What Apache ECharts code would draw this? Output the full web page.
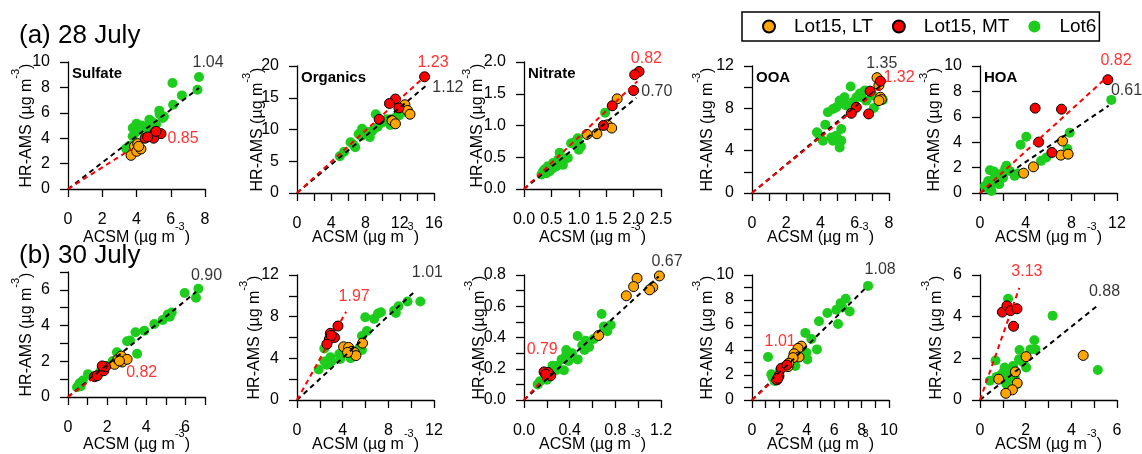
<!DOCTYPE html>
<html>
<head>
<meta charset="utf-8">
<title>HR-AMS vs ACSM</title>
<script src="https://cdn.jsdelivr.net/npm/echarts@6/dist/echarts.min.js"></script>
<style>
  body { margin: 0; background: #fff; }
  #main { width: 1142px; height: 454px; }
</style>
</head>
<body>
<div id="main"></div>
<script>
// panels: 28 July (Sulfate, Organics, Nitrate, OOA, HOA), then 30 July the same
var species = ['Sulfate', 'Organics', 'Nitrate', 'OOA', 'HOA'];
var dayTitles = ['(a) 28 July', '(b) 30 July'];
var seriesNames = ['Lot15, LT', 'Lot15, MT', 'Lot6'];

// points are [ACSM, HR-AMS] in ug m-3
var so4Jul28LT = [[3.68,2.65],[3.88,3.36],[4.01,2.97],[4.07,3.57],[4.26,3.15],[4.13,3.36]];
var so4Jul28MT = [[4.5,4.0],[5.08,4.46],[5.43,4.36],[5.0,4.0],[4.65,4.1],[5.14,4.54]];
var so4Jul28L6 = [[7.65,8.82],[6.1,8.35],[7.56,7.82],[6.65,7.37],[6.14,6.64],[5.33,6.17],[5.52,5.59],[4.75,5.46],[5.14,5.07],[4.0,5.14],[3.78,4.8],[4.17,4.67],[4.55,4.8],[3.78,4.15],[3.39,3.18],[4.9,5.3],[5.35,5.9],[4.3,5.0],[3.9,4.4],[4.8,4.6],[3.6,3.4],[5.6,5.7]];

var orgJul28LT = [[12.6,13.9],[12.9,13.0],[13.2,12.4],[11.1,11.4],[11.5,10.9]];
var orgJul28MT = [[14.9,18.3],[11.5,14.8],[10.8,14.1],[11.9,13.4],[9.6,11.6]];
var orgJul28L6 = [[12.5,12.8],[11.9,12.2],[10.9,10.7],[9.2,12.4],[10.0,11.2],[9.4,10.4],[8.5,8.8],[7.6,10.1],[7.2,9.3],[8.2,9.6],[6.8,7.2],[6.25,8.0],[5.5,6.5],[5.0,5.8],[10.5,11.6],[8.8,9.8],[11.4,11.8],[7.5,9.0],[6.6,7.6],[9.8,11.0]];

var no3Jul28LT = [[1.70,1.42],[1.52,1.01],[1.60,0.96],[1.33,0.87],[1.15,0.86]];
var no3Jul28MT = [[2.10,1.85],[2.02,1.80],[2.0,1.55],[1.61,1.31],[1.45,1.0]];
var no3Jul28L6 = [[1.48,1.20],[0.98,0.80],[0.86,0.72],[1.04,0.67],[0.95,0.75],[0.80,0.49],[0.65,0.57],[0.62,0.46],[0.71,0.38],[0.53,0.41],[0.44,0.36],[0.35,0.28],[0.32,0.23],[0.47,0.28],[0.53,0.33],[0.41,0.25],[0.59,0.36],[0.38,0.31],[0.66,0.43],[1.0,0.62]];

var ooaJul28LT = [[7.3,10.9],[7.41,10.16],[7.5,9.05],[7.55,8.83],[7.41,8.73]];
var ooaJul28MT = [[7.5,10.57],[6.9,9.62],[6.09,8.1],[5.8,7.53],[6.81,7.47]];
var ooaJul28L6 = [[5.76,10.06],[5.4,9.05],[5.12,8.73],[4.92,8.1],[4.43,7.63],[4.73,7.94],[5.5,8.26],[5.9,8.6],[6.1,9.05],[6.58,9.68],[6.38,9.05],[7.06,9.21],[7.64,8.8],[7.12,8.04],[6.67,8.73],[4.28,6.46],[3.79,5.73],[3.95,5.41],[4.63,5.25],[4.14,4.94],[4.73,4.94],[5.21,4.94],[5.12,4.3],[5.21,6.04],[4.92,5.41],[6.3,9.4],[5.3,8.5]];

var hoaJul28LT = [[7.23,4.09],[7.08,2.98],[7.72,3.06],[4.68,2.06],[3.82,1.56]];
var hoaJul28MT = [[11.2,8.92],[4.83,6.68],[7.14,6.6],[5.14,4.01],[6.3,3.19]];
var hoaJul28L6 = [[11.5,7.33],[7.86,4.75],[7.66,3.46],[5.81,2.8],[5.35,2.53],[4.05,4.43],[3.55,3.8],[0.87,1.79],[2.31,2.14],[1.73,1.48],[1.3,1.21],[0.72,0.95],[0.43,0.55],[1.01,0.16],[1.45,0.82],[2.02,1.21],[3.03,1.35],[2.6,1.74],[3.32,1.53],[0.58,0.42],[1.68,0.69],[1.21,1.69],[2.2,1.9],[0.9,0.6]];

var so4Jul30LT = [[2.38,1.83],[2.55,2.11],[2.72,2.29],[2.77,1.96],[3.02,2.11],[2.63,2.02]];
var so4Jul30MT = [[1.36,1.14],[1.49,1.19],[1.83,1.47],[1.92,1.69],[1.75,1.74]];
var so4Jul30L6 = [[6.66,6.06],[5.96,5.82],[6.54,5.56],[5.3,4.73],[5.1,4.62],[4.84,4.31],[4.41,4.09],[3.9,3.71],[3.45,3.63],[3.02,3.12],[3.17,3.16],[3.53,2.42],[2.5,2.51],[1.02,1.28],[0.76,0.92],[0.59,0.77],[0.46,0.55],[1.7,1.52],[1.58,1.32],[1.95,1.74],[2.29,2.02],[5.2,4.5],[0.65,0.6]];

var orgJul30LT = [[5.74,5.46],[4.08,5.11],[4.52,5.05],[4.81,4.67],[5.02,4.57],[5.16,4.26],[4.43,4.57]];
var orgJul30MT = [[3.59,7.1],[3.29,6.0],[2.92,6.4],[2.83,5.84],[2.62,5.36],[3.0,6.2]];
var orgJul30L6 = [[10.8,9.46],[9.68,9.46],[8.89,9.0],[8.51,8.58],[8.66,8.36],[7.35,8.42],[6.76,7.79],[5.98,7.95],[6.12,6.62],[5.69,6.15],[5.45,4.98],[5.69,4.8],[3.7,4.42],[3.79,3.94],[2.92,4.1],[3.0,3.69],[2.62,3.38],[2.42,3.69],[1.9,2.93],[2.39,4.95],[7.1,8.3],[5.0,4.2],[4.7,4.0]];

var no3Jul30LT = [[1.186,0.794],[0.99,0.779],[0.96,0.726],[1.128,0.722],[1.10,0.705],[0.896,0.667],[0.654,0.413]];
var no3Jul30MT = [[0.176,0.18],[0.211,0.176],[0.234,0.155],[0.19,0.165]];
var no3Jul30L6 = [[0.68,0.55],[0.76,0.48],[0.73,0.44],[0.70,0.47],[0.61,0.39],[0.54,0.38],[0.53,0.32],[0.57,0.34],[0.47,0.41],[0.37,0.32],[0.37,0.29],[0.47,0.26],[0.33,0.26],[0.29,0.22],[0.35,0.19],[0.25,0.22],[0.14,0.12],[0.12,0.10],[0.20,0.13],[0.28,0.19],[0.39,0.25],[0.51,0.35],[0.42,0.3]];

var ooaJul30LT = [[3.6,4.31],[3.36,4.13],[3.07,3.7],[3.43,3.44],[3.0,3.39],[2.63,2.67],[2.68,2.94]];
var ooaJul30MT = [[1.82,1.61],[1.97,1.93],[2.14,2.54],[2.55,2.80],[1.9,1.74]];
var ooaJul30L6 = [[8.47,9.13],[6.84,8.1],[6.47,7.75],[6.16,7.22],[7.13,7.09],[6.28,6.08],[5.5,6.96],[4.89,6.3],[3.89,5.37],[4.33,4.89],[4.74,4.05],[3.97,3.78],[4.04,3.25],[3.16,2.72],[1.17,3.44],[1.41,2.06],[1.65,1.53],[2.02,2.33],[1.5,1.8],[6.6,7.4]];

var hoaJul30LT = [[4.52,2.14],[2.02,2.08],[1.55,1.35],[0.82,1.0],[1.63,0.81],[1.42,0.49],[1.13,0.32]];
var hoaJul30MT = [[0.98,4.22],[1.18,4.52],[1.34,4.29],[1.62,4.38],[1.47,3.54]];
var hoaJul30L6 = [[1.23,4.86],[3.18,4.05],[2.38,2.87],[2.43,2.43],[2.21,2.43],[1.73,2.4],[0.68,1.9],[1.71,1.95],[1.45,1.63],[2.02,1.56],[5.16,1.44],[1.3,1.4],[1.01,1.32],[0.72,1.11],[0.43,0.92],[1.23,1.0],[1.52,1.11],[1.62,0.76],[1.16,0.76],[0.87,1.16],[1.08,1.56],[1.9,1.8]];

var lotLT = [so4Jul28LT, orgJul28LT, no3Jul28LT, ooaJul28LT, hoaJul28LT, so4Jul30LT, orgJul30LT, no3Jul30LT, ooaJul30LT, hoaJul30LT];
var lotMT = [so4Jul28MT, orgJul28MT, no3Jul28MT, ooaJul28MT, hoaJul28MT, so4Jul30MT, orgJul30MT, no3Jul30MT, ooaJul30MT, hoaJul30MT];
var lot6 = [so4Jul28L6, orgJul28L6, no3Jul28L6, ooaJul28L6, hoaJul28L6, so4Jul30L6, orgJul30L6, no3Jul30L6, ooaJul30L6, hoaJul30L6];

// fitted slopes (black = all / Lot6, red = Lot15 MT) and where the fit lines stop
var slopeBlack = [1.04, 1.12, 0.70, 1.35, 0.61, 0.90, 1.01, 0.67, 1.08, 0.88];
var slopeRed = [0.85, 1.23, 0.82, 1.32, 0.82, 0.82, 1.97, 0.79, 1.01, 3.13];
var fitEndBlack = [7.65, 15.0, 2.05, 7.5, 11.27, 6.54, 10.3, 1.18, 8.4, 5.1];
var fitEndRed = [3.7, 14.9, 2.07, 7.5, 11.2, 1.9, 4.3, 0.26, 2.75, 1.72];
var slopeTextBlackAt = [[7.27,9.97],[15.8,16.6],[2.14,1.54],[6.67,12.2],[11.47,8.07],[6.28,6.79],[10.06,12.2],[1.116,0.885],[8.22,10.4],[4.77,5.2]];
var slopeTextRedAt = [[5.81,3.99],[14.06,20.5],[1.95,2.05],[7.68,10.95],[10.55,10.42],[2.97,1.34],[3.64,9.94],[0.023,0.322],[0.92,4.66],[1.37,6.14]];

// axes: max, tick spacing, labelled spacing, decimals
var xMax = [8, 16, 2.5, 8, 12, 7, 12, 1.2, 10, 6];
var xTick = [2, 2, 0.5, 1, 2, 1, 2, 0.2, 1, 1];
var xLabelStep = [2, 4, 0.5, 2, 4, 2, 4, 0.4, 2, 2];
var yMax = [10, 20, 2, 12, 10, 7, 12, 0.8, 10, 6];
var yTick = [2, 5, 0.5, 2, 2, 1, 2, 0.1, 1, 1];
var yLabelStep = [2, 5, 0.5, 4, 2, 2, 4, 0.2, 2, 2];
var decimals = [0, 0, 1, 0, 0, 0, 0, 1, 0, 0];

// layout
var gridLeft = [68, 297, 524, 752, 980];
var gridTop = [62, 66, 62, 66, 66, 272, 275, 275, 275, 275];
var xNameGap = [32, 28, 32, 28, 28, 31, 28, 28, 28, 28];
var yNameGap = [24, 22, 29, 27, 28, 24, 25, 27, 27, 26];

var FONT = 'Liberation Sans, Arial, sans-serif';
var colLT = '#FFA500', colMT = '#FF0000', col6 = '#1DCC1D';

function labelFmt(step, dec) {
	return function (v) {
		var r = v / step;
		return Math.abs(r - Math.round(r)) < 1e-6 ? v.toFixed(dec) : '';
	};
}

var unitRich = {
	n: { fontSize: 16, lineHeight: 34, fontFamily: FONT, color: '#000' },
	s: { fontSize: 11, lineHeight: 11, verticalAlign: 'top', fontFamily: FONT, color: '#000' }
};

var grids = [], xAxes = [], yAxes = [], series = [];
var titles = [
	{ text: dayTitles[0], left: 19, top: 23, padding: 0, textStyle: { fontSize: 26, fontWeight: 'normal', fontFamily: FONT, color: '#000' } },
	{ text: dayTitles[1], left: 19, top: 243, padding: 0, textStyle: { fontSize: 26, fontWeight: 'normal', fontFamily: FONT, color: '#000' } }
];

for (var i = 0; i < 10; i++) {
	var row = i < 5 ? 0 : 1;
	grids.push({ left: gridLeft[i % 5], top: gridTop[i], width: 137, height: 127 });

	var axisCommon = {
		type: 'value', min: 0, gridIndex: i,
		nameMoveOverlap: false,
		axisLine: { show: true, onZero: false, lineStyle: { color: '#000', width: 1.3 } },
		axisTick: { show: true, length: 8, lineStyle: { color: '#000', width: 1.3 } },
		splitLine: { show: false }
	};
	xAxes.push(Object.assign({}, axisCommon, {
		max: xMax[i], interval: xTick[i],
		name: '{n|ACSM (µg m}{s|-3}{n|)}', nameLocation: 'middle', nameGap: xNameGap[i],
		nameTextStyle: { rich: unitRich },
		axisLabel: { margin: 23, fontSize: 16, color: '#000', fontFamily: FONT, formatter: labelFmt(xLabelStep[i], decimals[i]) }
	}));
	yAxes.push(Object.assign({}, axisCommon, {
		max: yMax[i], interval: yTick[i],
		name: '{n|HR-AMS (µg m}{s|-3}{n|)}', nameLocation: 'middle', nameGap: yNameGap[i],
		nameTextStyle: { rich: unitRich },
		axisLabel: { margin: 18, fontSize: 16, color: '#000', fontFamily: FONT, formatter: labelFmt(yLabelStep[i], decimals[i]) }
	}));

	if (row === 0) {
		titles.push({ text: species[i], left: gridLeft[i] + 4, top: gridTop[i] + 4, padding: 0,
			textStyle: { fontSize: 15, fontWeight: 'bold', fontFamily: FONT, color: '#000' } });
	}

	series.push({ name: 'Lot6', type: 'scatter', xAxisIndex: i, yAxisIndex: i, data: lot6[i],
		symbolSize: 10, z: 2, itemStyle: { color: col6, opacity: 1 } });
	series.push({ name: 'Lot15, LT', type: 'scatter', xAxisIndex: i, yAxisIndex: i, data: lotLT[i],
		symbolSize: 10, z: 3, itemStyle: { color: colLT, borderColor: '#000', borderWidth: 1, opacity: 1 } });
	series.push({ name: 'Lot15, MT', type: 'scatter', xAxisIndex: i, yAxisIndex: i, data: lotMT[i],
		symbolSize: 10, z: 4, itemStyle: { color: colMT, borderColor: '#000', borderWidth: 1, opacity: 1 } });

	series.push({ type: 'line', xAxisIndex: i, yAxisIndex: i, symbol: 'none', z: 5, silent: true,
		data: [[0, 0], [fitEndBlack[i], slopeBlack[i] * fitEndBlack[i]]],
		lineStyle: { color: '#000', width: 2, type: [5, 4] } });
	series.push({ type: 'line', xAxisIndex: i, yAxisIndex: i, symbol: 'none', z: 6, silent: true,
		data: [[0, 0], [fitEndRed[i], slopeRed[i] * fitEndRed[i]]],
		lineStyle: { color: '#FF0000', width: 2, type: [5, 4] } });

	series.push({ type: 'scatter', xAxisIndex: i, yAxisIndex: i, symbolSize: 0, z: 7, silent: true, clip: false,
		data: [
			{ value: [slopeTextBlackAt[i][0], slopeTextBlackAt[i][1]], label: { formatter: slopeBlack[i].toFixed(2), color: '#000' } },
			{ value: [slopeTextRedAt[i][0], slopeTextRedAt[i][1]], label: { formatter: slopeRed[i].toFixed(2), color: '#FF0000' } }
		],
		label: { show: true, position: [0, 0], align: 'left', verticalAlign: 'middle', fontSize: 16, fontFamily: FONT } });
}

var myChart = echarts.init(document.getElementById('main'));
myChart.setOption({
	animation: false,
	backgroundColor: '#fff',
	title: titles,
	legend: {
		left: 742, top: 12,
		data: seriesNames.map(function (n) { return { name: n, icon: 'circle' }; }),
		itemWidth: 12, itemHeight: 12, itemGap: 19,
		padding: [5, 3, 5, 20],
		borderColor: '#000', borderWidth: 1.5,
		textStyle: { fontSize: 19, fontFamily: FONT, color: '#000', padding: [0, 0, 0, 14] }
	},
	grid: grids,
	xAxis: xAxes,
	yAxis: yAxes,
	series: series
});
</script>
</body>
</html>
